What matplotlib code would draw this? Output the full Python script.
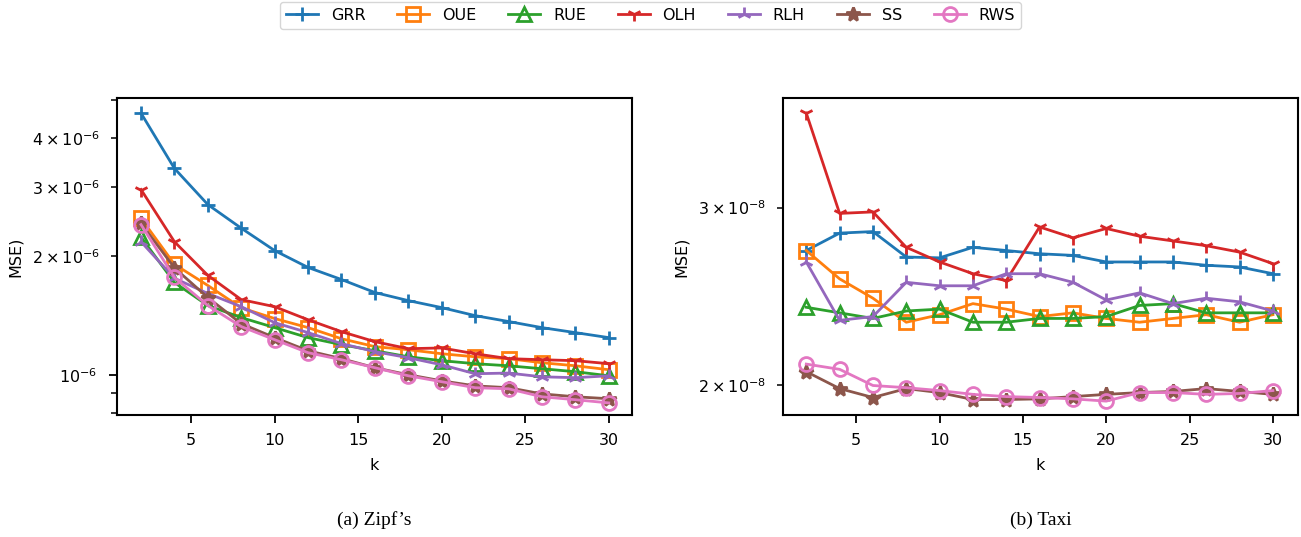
import numpy as np
import matplotlib
matplotlib.use('Agg')
import matplotlib.pyplot as plt

k = [2, 4, 6, 8, 10, 12, 14, 16, 18, 20, 22, 24, 26, 28, 30]
names = ['GRR', 'OUE', 'RUE', 'OLH', 'RLH', 'SS', 'RWS']
markers = ['+', 's', '^', '1', '2', '*', 'o']
colors = ['#1f77b4', '#ff7f0e', '#2ca02c', '#d62728', '#9467bd', '#8c564b', '#e377c2']

# Zipf's (x 1e-6)
zipf_grr = [4.63, 3.35, 2.71, 2.36, 2.07, 1.875, 1.747, 1.619, 1.544, 1.482, 1.414, 1.366, 1.318, 1.28, 1.243]
zipf_oue = [2.50, 1.91, 1.687, 1.48, 1.39, 1.318, 1.235, 1.179, 1.158, 1.131, 1.111, 1.099, 1.073, 1.054, 1.03]
zipf_rue = [2.24, 1.717, 1.50, 1.398, 1.318, 1.243, 1.193, 1.151, 1.111, 1.086, 1.067, 1.054, 1.036, 1.018, 0.994]
zipf_olh = [2.96, 2.18, 1.79, 1.553, 1.49, 1.38, 1.287, 1.214, 1.165, 1.17, 1.131, 1.099, 1.092, 1.086, 1.067]
zipf_rlh = [2.18, 1.76, 1.61, 1.49, 1.357, 1.28, 1.20, 1.145, 1.105, 1.06, 1.006, 1.01, 0.988, 0.983, 0.994]
zipf_ss = [2.43, 1.87, 1.572, 1.349, 1.243, 1.151, 1.099, 1.042, 1.0, 0.965, 0.937, 0.927, 0.894, 0.879, 0.869]
zipf_rws = [2.41, 1.768, 1.50, 1.326, 1.228, 1.138, 1.092, 1.042, 0.994, 0.96, 0.927, 0.921, 0.879, 0.864, 0.848]

# Taxi (x 1e-8)
taxi_grr = [2.72, 2.83, 2.84, 2.68, 2.675, 2.74, 2.72, 2.70, 2.69, 2.65, 2.65, 2.65, 2.63, 2.62, 2.58]
taxi_oue = [2.72, 2.55, 2.44, 2.31, 2.35, 2.41, 2.38, 2.34, 2.36, 2.33, 2.31, 2.33, 2.35, 2.31, 2.35]
taxi_rue = [2.39, 2.36, 2.33, 2.37, 2.38, 2.31, 2.31, 2.33, 2.33, 2.34, 2.40, 2.41, 2.36, 2.36, 2.36]
taxi_olh = [3.72, 2.96, 2.97, 2.74, 2.65, 2.58, 2.54, 2.87, 2.80, 2.86, 2.81, 2.78, 2.75, 2.71, 2.64]
taxi_rlh = [2.65, 2.32, 2.34, 2.53, 2.51, 2.51, 2.58, 2.58, 2.53, 2.43, 2.47, 2.41, 2.44, 2.42, 2.37]
taxi_ss = [2.064, 1.986, 1.946, 1.986, 1.968, 1.937, 1.937, 1.94, 1.95, 1.96, 1.968, 1.973, 1.986, 1.973, 1.96]
taxi_rws = [2.10, 2.075, 2.0, 1.99, 1.977, 1.96, 1.95, 1.946, 1.94, 1.93, 1.968, 1.968, 1.96, 1.964, 1.977]

zipf = [zipf_grr, zipf_oue, zipf_rue, zipf_olh, zipf_rlh, zipf_ss, zipf_rws]
taxi = [taxi_grr, taxi_oue, taxi_rue, taxi_olh, taxi_rlh, taxi_ss, taxi_rws]

fs = 11.5

fig = plt.figure(figsize=(13.01, 5.37), dpi=100)
ax1 = fig.add_axes([0.0899, 0.2272, 0.3960, 0.5903])
ax2 = fig.add_axes([0.6018, 0.2272, 0.3958, 0.5903])

for i in range(len(names)):
    face = 'none' if markers[i] in ('s', '^', 'o') else colors[i]
    ax1.plot(k, np.array(zipf[i]) * 1e-6, marker=markers[i], color=colors[i], lw=2,
             ms=10, mew=2, mfc=face, label=names[i])
    ax2.plot(k, np.array(taxi[i]) * 1e-8, marker=markers[i], color=colors[i], lw=2,
             ms=10, mew=2, mfc=face)

ax1.set_yscale('log')
ax2.set_yscale('log')
ax1.set_ylim(0.79e-6, 5.06e-6)
ax2.set_ylim(1.87e-8, 3.85e-8)
ax1.set_xlim(0.56, 31.4)
ax2.set_xlim(0.6, 31.5)
ax1.set_xticks([5, 10, 15, 20, 25, 30])
ax2.set_xticks([5, 10, 15, 20, 25, 30])

for ax in (ax1, ax2):
    ax.set_xlabel('k', fontsize=fs, labelpad=7)
    ax.set_ylabel('MSE)', fontsize=fs, labelpad=7)
    ax.tick_params(axis='x', labelsize=fs, length=6, width=1.3, pad=7)
    ax.tick_params(axis='y', which='major', labelsize=fs, length=6, width=1.3, pad=8)
    ax.tick_params(axis='y', which='minor', labelsize=fs, length=4, width=1.1, pad=8)
    for s in ax.spines.values():
        s.set_linewidth(1.5)

fig.legend(loc='upper center', ncol=7, bbox_to_anchor=(0.5, 1.012), fontsize=fs)

fig.text(0.288, 0.022, "(a) Zipf\u2019s", ha='center', fontsize=14, family='Liberation Serif')
fig.text(0.80, 0.022, '(b) Taxi', ha='center', fontsize=14, family='Liberation Serif')

fig.savefig('out.png', dpi=100)
